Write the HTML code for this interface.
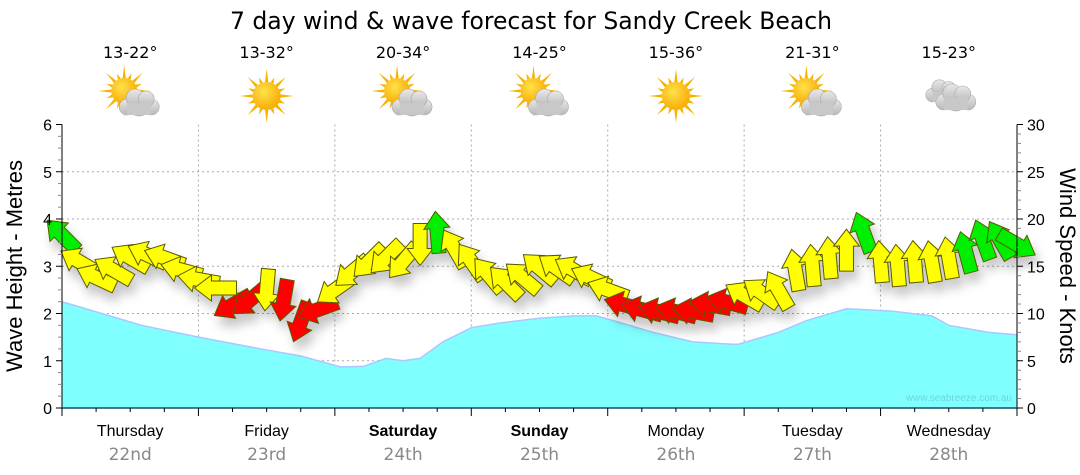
<!DOCTYPE html>
<html><head><meta charset="utf-8"><style>
html,body{margin:0;padding:0;background:#fff;}
svg{display:block;font-family:"DejaVu Sans","Liberation Sans",sans-serif;}
</style></head><body>
<svg id="chart" width="1080" height="475" viewBox="0 0 1080 475" xmlns="http://www.w3.org/2000/svg">
<defs>
<filter id="sh" x="-50%" y="-50%" width="200%" height="200%"><feDropShadow dx="4" dy="9" stdDeviation="5" flood-color="#000" flood-opacity="0.22"/></filter>
<radialGradient id="sunG" cx="0.4" cy="0.35" r="0.7"><stop offset="0" stop-color="#ffe24a"/><stop offset="1" stop-color="#f7a800"/></radialGradient>
<linearGradient id="cloudG" x1="0" y1="0" x2="0" y2="1"><stop offset="0" stop-color="#e8e8e8"/><stop offset="1" stop-color="#b8b8b8"/></linearGradient>
</defs>
<text x="531" y="29" text-anchor="middle" font-size="24" font-family="DejaVu Sans, sans-serif" textLength="602" lengthAdjust="spacingAndGlyphs">7 day wind &amp; wave forecast for Sandy Creek Beach</text>
<g id="grid"></g>
<g id="wave"></g>
<text x="1012" y="401" text-anchor="end" font-size="10" fill="#6cd6dd" font-family="Liberation Sans, sans-serif">www.seabreeze.com.au</text>
<g id="arrows" filter="url(#sh)"></g>
<g id="axes"></g>
<g id="topIcons"></g>
<text transform="translate(22,266) rotate(-90)" text-anchor="middle" font-size="22" font-family="Liberation Sans, sans-serif">Wave Height - Metres</text>
<text transform="translate(1060,266) rotate(90)" text-anchor="middle" font-size="22" font-family="Liberation Sans, sans-serif">Wind Speed - Knots</text>
</svg>
<script>
const days=["Thursday","Friday","Saturday","Sunday","Monday","Tuesday","Wednesday"];
const dates=["22nd","23rd","24th","25th","26th","27th","28th"];
const boldDays=[false,false,true,true,false,false,false];
const temps=["13-22°","13-32°","20-34°","14-25°","15-36°","21-31°","15-23°"];
const icons=["partly","sun","partly","partly","sun","partly","cloud"];
const leftTicks=[0,1,2,3,4,5,6];
const rightTicks=[0,5,10,15,20,25,30];
const waveHours=[0,7,14,24,35,42,49,53,57,60,63,67,72,77,84,90,94,97,104,111,118,119,126,131,138,146,153,156];
const waveM=[2.25,2.0,1.75,1.5,1.25,1.1,0.87,0.88,1.05,1.0,1.05,1.4,1.7,1.8,1.9,1.95,1.95,1.85,1.6,1.4,1.35,1.35,1.6,1.85,2.1,2.05,1.95,1.75];
const waveHoursEnd=[163,168];
const waveMEnd=[1.6,1.55];
const windSpeed=[18.3,15.5,13.8,14.6,15.9,16.2,15.9,14.6,13.6,12.7,10.9,11.4,12.5,11.4,9.1,10.4,12.5,14.4,15.5,15.9,15.5,17.3,18.6,16.9,15.5,14.1,13.3,13.8,14.8,14.8,14.6,13.8,12.5,10.9,10.4,10.2,10.2,10.2,10.9,11.2,11.9,12.2,12.5,14.6,15.1,15.9,16.7,18.6,15.5,15.1,15.5,15.5,15.9,16.5,17.8,17.8,17.3];
const windDir=[135,150,155,150,150,155,160,165,170,180,210,220,265,260,250,200,215,220,225,225,230,270,95,120,125,130,135,140,140,145,150,155,160,165,165,165,165,170,170,165,150,145,120,100,95,95,90,110,95,95,95,100,100,105,110,120,330];
const windColor=["g","y","y","y","y","y","y","y","y","y","r","r","y","r","r","r","y","y","y","y","y","y","g","y","y","y","y","y","y","y","y","y","y","r","r","r","r","r","r","r","y","y","y","y","y","y","y","g","y","y","y","y","y","g","g","g","g"];

const X0=62,X1=1017,Y0=408,Y1=124.5,HOURS=168;
const xs=h=>X0+h/HOURS*(X1-X0);
const yl=m=>Y0-m/6*(Y0-Y1);
const yr=k=>Y0-k/30*(Y0-Y1);
const NS="http://www.w3.org/2000/svg";
function mk(tag,attrs,parent){const e=document.createElementNS(NS,tag);for(const k in attrs)e.setAttribute(k,attrs[k]);parent.appendChild(e);return e;}
const grid=document.getElementById('grid'),axes=document.getElementById('axes'),wave=document.getElementById('wave'),arrows=document.getElementById('arrows'),topG=document.getElementById('topIcons');

leftTicks.forEach(t=>{ if(t>0&&t<6){const l=mk('line',{x1:X0,x2:X1,y1:yl(t),y2:yl(t),stroke:'#aaa','stroke-dasharray':'2,3'},grid);

}});
for(let d=1;d<7;d++){const l=mk('line',{x1:xs(d*24),x2:xs(d*24),y1:Y1,y2:Y0,stroke:'#aaa','stroke-dasharray':'2,3'},grid);

}

const wh=waveHours.concat(waveHoursEnd),wm=waveM.concat(waveMEnd);
let pts=wh.map((h,i)=>xs(h)+','+yl(wm[i]));
const area=mk('polygon',{points:X0+','+Y0+' '+pts.join(' ')+' '+X1+','+Y0,fill:'#80ffff'},wave);


const wl=mk('polyline',{points:pts.join(' '),fill:'none',stroke:'#a9c8ff','stroke-width':1.5},wave);



const cols={g:'#00ee00',y:'#ffff00',r:'#ff0000'};
const L=42,HW=13,SW=7,HL=17;
windSpeed.forEach((s,i)=>{
  const cx=xs(i*3),cy=yr(s);
  const p=[[L/2,0],[L/2-HL,-HW],[L/2-HL,-SW],[-L/2,-SW],[-L/2,SW],[L/2-HL,SW],[L/2-HL,HW]];
  const a=mk('polygon',{points:p.map(q=>q.join(',')).join(' '),fill:cols[windColor[i]],stroke:'#5a5a00','stroke-width':1,transform:`translate(${cx},${cy}) rotate(${-windDir[i]})`},arrows);
  
  
});

mk('line',{x1:X0,x2:X0,y1:Y1,y2:Y0+6,stroke:'#000'},axes);
mk('line',{x1:X1,x2:X1,y1:Y1,y2:Y0,stroke:'#000'},axes);
mk('line',{x1:X0,x2:X1,y1:Y0,y2:Y0,stroke:'#1a4a6a','stroke-width':1.5},axes);
for(let q=0;q<=24;q++){const y=yl(q/4);mk('line',{x1:X0-(q%4?4:6),x2:X0,y1:y,y2:y,stroke:q%4?'#888':'#000'},axes);}
for(let q=0;q<=30;q++){const y=yr(q);mk('line',{x1:X1,x2:X1+(q%5?4:6),y1:y,y2:y,stroke:q%5?'#888':'#000'},axes);}
leftTicks.forEach(t=>{const e=mk('text',{x:52,y:yl(t)+6,'text-anchor':'end','font-size':16,'font-family':'Liberation Sans, sans-serif'},axes);e.textContent=t;

});
rightTicks.forEach(t=>{const e=mk('text',{x:1027,y:yr(t)+6,'font-size':16,'font-family':'Liberation Sans, sans-serif'},axes);e.textContent=t;

});
for(let h=0;h<=168;h+=6){mk('line',{x1:xs(h),x2:xs(h),y1:Y0,y2:Y0+(h%24?4:8),stroke:'#000'},axes);}
days.forEach((d,i)=>{const cx=xs(i*24+12);
  const t=mk('text',{x:cx,y:436,'text-anchor':'middle','font-size':16,'font-weight':boldDays[i]?'bold':'normal','font-family':'Liberation Sans, sans-serif'},axes);t.textContent=d;
  
  
  const u=mk('text',{x:cx,y:460,'text-anchor':'middle','font-size':17,fill:'#888','font-family':'DejaVu Sans, sans-serif'},axes);u.textContent=dates[i];
  
  
});

function sun(g,cx,cy,r){for(let k=0;k<16;k++){const a=k*Math.PI/8,len=k%2?r+6:r+13;
  mk('polygon',{points:`${cx+Math.cos(a)*len},${cy+Math.sin(a)*len} ${cx+Math.cos(a+0.12)*r},${cy+Math.sin(a+0.12)*r} ${cx+Math.cos(a-0.12)*r},${cy+Math.sin(a-0.12)*r}`,fill:'#f6b400'},g);}
  mk('circle',{cx:cx,cy:cy,r:r,fill:'url(#sunG)'},g);}
function cloud(g,cx,cy,s){const c=[[0,4,11],[-12,6,8],[12,6,8],[-4,-3,9],[7,-2,8]];
  c.forEach(q=>mk('circle',{cx:cx+q[0]*s,cy:cy+q[1]*s,r:q[2]*s,fill:'url(#cloudG)',stroke:'#aaa','stroke-width':0.6},g));
  mk('rect',{x:cx-12*s,y:cy+2*s,width:24*s,height:12*s,fill:'#c8c8c8'},g);}
temps.forEach((t,i)=>{const cx=xs(i*24+12);
  const e=mk('text',{x:cx,y:58,'text-anchor':'middle','font-size':16,'font-family':'DejaVu Sans, sans-serif'},topG);e.textContent=t;
  
  
  const g=mk('g',{},topG);
  
  
  if(icons[i]==='sun')sun(g,cx,96,14);
  else if(icons[i]==='partly'){sun(g,cx-6,91,13);cloud(g,cx+9,101,1);}
  else{cloud(g,cx-6,90,0.85);cloud(g,cx+7,96,1);}
});
</script>
</body></html>
